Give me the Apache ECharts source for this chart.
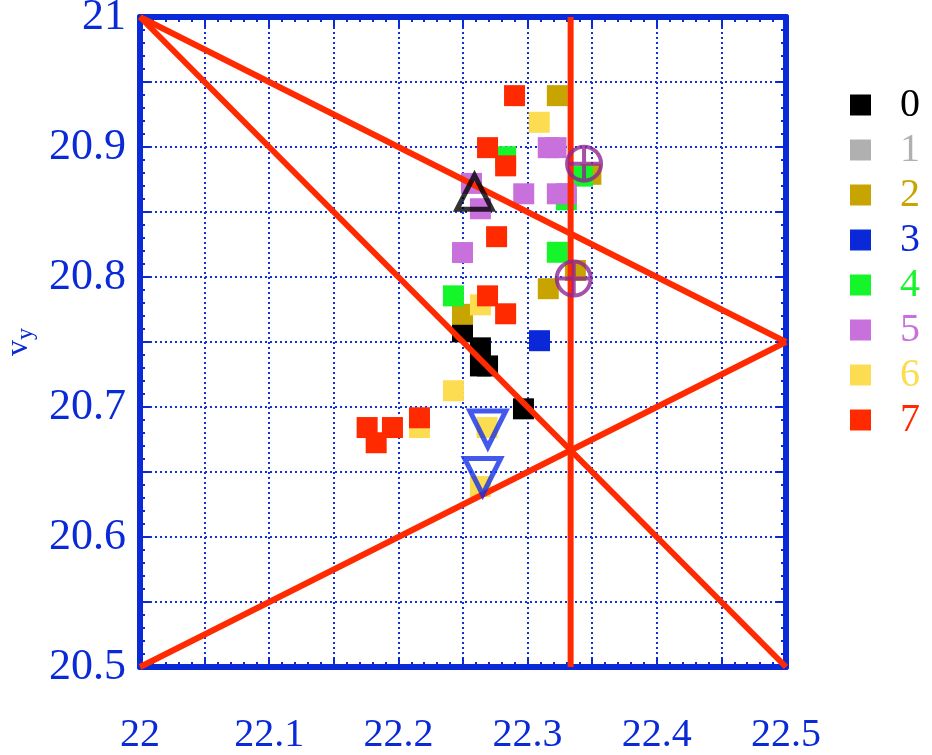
<!DOCTYPE html>
<html>
<head>
<meta charset="utf-8">
<script src="https://cdn.jsdelivr.net/npm/echarts@6/dist/echarts.min.js"></script>
<style>html,body{margin:0;padding:0;background:#fff;}#chart{width:932px;height:755px;}</style>
</head>
<body>
<div id="chart"></div>
<script>
// ---- data ----
const seriesNames = ['0','1','2','3','4','5','6','7'];
const seriesColors = ['#000000','#b0b0b0','#c8a400','#0a28d8','#14f52a','#c870dc','#fcdc50','#ff2a00'];
const s0 = [[22.2496,20.7578],[22.2635,20.7455],[22.2635,20.7316],[22.269,20.7316],[22.2968,20.6986]];
const s1 = [];
const s2 = [[22.323,20.9395],[22.349,20.879],[22.337,20.805],[22.316,20.791],[22.2496,20.7713]];
const s3 = [[22.3092,20.751]];
const s4 = [[22.283,20.8925],[22.3425,20.8776],[22.330,20.8594],[22.323,20.819],[22.2426,20.7855]];
const s5 = [[22.316,20.8995],[22.322,20.8995],[22.297,20.864],[22.323,20.864],[22.330,20.864],[22.2566,20.872],[22.2635,20.8525],[22.2496,20.8188]];
const s6 = [[22.309,20.919],[22.2635,20.7786],[22.2426,20.7125],[22.2163,20.6842],[22.2686,20.6842],[22.2635,20.6388]];
const s7 = [[22.2899,20.9395],[22.269,20.8995],[22.283,20.8855],[22.276,20.831],[22.269,20.7855],[22.283,20.7717],[22.1758,20.6842],[22.1954,20.6842],[22.1828,20.6725],[22.2163,20.6917]];
const lineA = [[22,21],[22.5,20.5]];
const lineB = [[22,21],[22.5,20.75]];
const lineC = [[22,20.5],[22.5,20.75]];
const lineD = [[22.3333,20.5],[22.3333,21]];
const upTriangle = [[22.2589,20.8652]];
const downTriangles = [[22.2692,20.6831],[22.2652,20.6465]];
const circlePlus = [[22.3437,20.8872],[22.3357,20.7988]];
const xTickLabels = ['22','22.1','22.2','22.3','22.4','22.5'];
const yTickLabels = ['20.5','20.6','20.7','20.8','20.9','21'];

// ---- chart ----
const BLUE = '#0a2ad8';
const FONT = '"Liberation Serif", "Times New Roman", serif';
const chart = echarts.init(document.getElementById('chart'), null, {renderer:'canvas'});

function lbl(v, list) {
  if (Math.round(v*20) % 2 !== 0) return '';
  const s = String(parseFloat(v.toFixed(2)));
  return list.indexOf(s) >= 0 ? s : '';
}
function axisBase(extra) {
  return Object.assign({
    type:'value',
    interval:0.05,
    axisLine:{show:true, onZero:false, lineStyle:{color:BLUE, width:6}},
    axisTick:{show:true, inside:true, length:10, lineStyle:{color:BLUE, width:2}},
    minorTick:{show:true, splitNumber:5, length:5, lineStyle:{color:BLUE, width:2}},
    splitLine:{show:false},
    axisLabel:{show:false}
  }, extra);
}
const gridLine = {show:true, lineStyle:{color:'#1232e0', width:2, type:[2,3]}};

const scatterSeries = [s0,s1,s2,s3,s4,s5,s6,s7].map((d,i)=>({
  name: seriesNames[i], type:'scatter', data:d, symbol:'rect', symbolSize:21,
  itemStyle:{color:seriesColors[i], opacity:1}, z:2+i*0.01, animation:false
}));
const redLines = [lineA,lineB,lineC,lineD].map(d=>({
  type:'line', data:d, symbol:'none', clip:false, z:5, animation:false,
  lineStyle:{color:'#ff2a00', width:6}, silent:true
}));

chart.setOption({
  animation:false,
  backgroundColor:'#fff',
  grid:{left:140, right:146, top:17, bottom:88, show:false, containLabel:false, outerBoundsMode:'none'},
  legend:{
    orient:'vertical', left:845, top:80, itemWidth:21, itemHeight:21, itemGap:5,
    icon:'rect',
    textStyle:{fontFamily:FONT, fontSize:40, padding:[0,0,0,24]},
    data: seriesNames.map((n,i)=>({name:n, textStyle:{color:seriesColors[i]}})),
    selectedMode:false
  },
  xAxis:[
    axisBase({position:'bottom', min:22, max:22.5, splitLine:gridLine,
      axisLabel:{show:true, margin:48, color:BLUE, fontFamily:FONT, fontSize:40,
        formatter:v=>lbl(v, xTickLabels)}}),
    axisBase({position:'top', min:22, max:22.5})
  ],
  yAxis:[
    axisBase({position:'left', min:20.5, max:21, splitLine:gridLine,
      name:'{v|v}{y|y}', nameLocation:'middle', nameGap:98, nameRotate:90,
      nameTextStyle:{color:BLUE, fontFamily:FONT, rich:{
        v:{fontSize:32, color:BLUE, fontFamily:FONT, lineHeight:40, verticalAlign:'middle'},
        y:{fontSize:24, color:BLUE, fontFamily:FONT, lineHeight:40, verticalAlign:'bottom', padding:[14,0,0,0]}}},
      axisLabel:{show:true, margin:14, color:BLUE, fontFamily:FONT, fontSize:44,
        formatter:v=>lbl(v, yTickLabels)}}),
    axisBase({position:'right', min:20.5, max:21})
  ],
  series: scatterSeries.concat(redLines).concat([
    {type:'scatter', data:upTriangle, symbol:'triangle', symbolSize:[35,34], z:10, animation:false,
     itemStyle:{color:'rgba(0,0,0,0)', borderColor:'#000', borderWidth:5}},
    {type:'scatter', data:downTriangles, symbol:'triangle', symbolRotate:180, symbolSize:[36,36], z:10, animation:false,
     itemStyle:{color:'rgba(0,0,0,0)', borderColor:'#1430e8', borderWidth:5}},
    {type:'scatter', data:circlePlus, symbol:'path://M0,-10A10,10,0,1,1,0,10A10,10,0,1,1,0,-10ZM-10,0L10,0M0,-10L0,10', symbolSize:34, z:10, animation:false,
     itemStyle:{color:'rgba(0,0,0,0)', borderColor:'#8e2494', borderWidth:4}}
  ])
});
</script>
</body>
</html>
